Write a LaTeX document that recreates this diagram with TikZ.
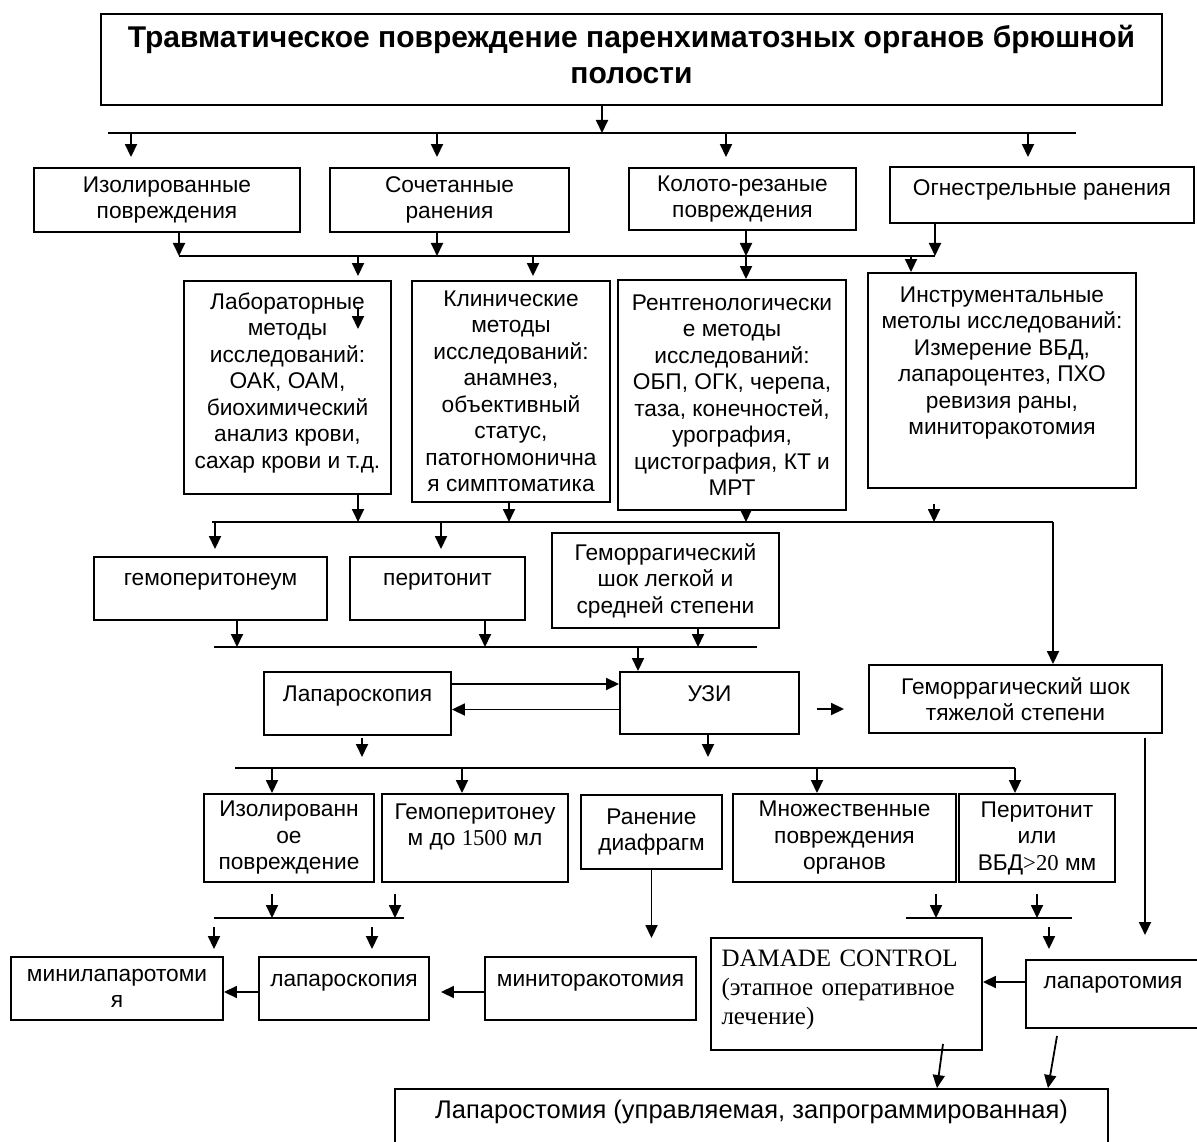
\documentclass[tikz,border=0pt]{standalone}
\usepackage{fontspec}
\setmainfont{Liberation Sans}
\newfontfamily\timesf{Liberation Serif}
\usetikzlibrary{arrows.meta}

\tikzset{
  box/.style={draw, line width=1.9pt, rectangle, inner sep=2pt, align=center,
    font=\fontsize{22.7}{26.5}\selectfont},
  dims/.style 2 args={minimum width=#1pt, minimum height=#2pt},
  lift/.style={text height=16pt, text depth=#1},
  arr/.style={line width=1.8pt, -{Triangle[width=12pt,length=13pt]}},
  bus/.style={line width=1.9pt},
}

\begin{document}
\begin{tikzpicture}[x=1pt,y=-1pt]
\useasboundingbox (0,0) rectangle (1197,1142);

% Title
\node[box, dims={1061}{91}, font=\fontsize{30}{36}\selectfont\bfseries] (title) at (631.5,59.5)
  {Травматическое повреждение паренхиматозных органов брюшной\\полости\\[-26pt]\mbox{}};

% Kind of injury
\node[box, dims={266}{64}] (izol) at (167,200) {Изолированные\\повреждения};
\node[box, dims={239}{64}] (soch) at (449.5,200) {Сочетанные\\ранения};
\node[box, dims={227}{62}] (kolot) at (742.5,199) {Колото-резаные\\повреждения};
\node[box, dims={304}{56}, lift=14pt] (ogn) at (1042,195) {Огнестрельные ранения};

% Methods
\node[box, dims={207}{213}] (lab) at (287.5,387.5)
  {Лабораторные\\методы\\исследований:\\ОАК, ОАМ,\\биохимический\\анализ крови,\\сахар крови и т.д.\\[-12pt]\mbox{}};
\node[box, dims={198}{221}] (klin) at (511,391.5)
  {Клинические\\методы\\исследований:\\анамнез,\\объективный\\статус,\\патогномонична\\я симптоматика};
\node[box, dims={228}{230}] (rentg) at (732,395)
  {Рентгенологически\\е методы\\исследований:\\ОБП, ОГК, черепа,\\таза, конечностей,\\урография,\\цистография, КТ и\\МРТ};
\node[box, dims={268}{215}] (instr) at (1002,380.5)
  {Инструментальные\\метолы исследований:\\Измерение ВБД,\\лапароцентез, ПХО\\ревизия раны,\\миниторакотомия\\[13.5pt]\mbox{}};

% Findings
\node[box, dims={233}{63}, lift=23pt] (gemo) at (210.5,588.5) {гемоперитонеум};
\node[box, dims={175}{63}, lift=23pt] (perit) at (437.5,588.5) {перитонит};
\node[box, dims={227}{95}] (shokL) at (665.5,580.5) {Геморрагический\\шок легкой и\\средней степени};

\node[box, dims={187}{63}, lift=21pt] (lapS) at (357.5,703.5) {Лапароскопия};
\node[box, dims={179}{62}, lift=20pt] (uzi) at (709.5,703) {УЗИ};
\node[box, dims={293}{68}] (shokT) at (1015.5,699) {Геморрагический шок\\тяжелой степени};

% Result of diagnostics
\node[box, dims={170}{88}] (izol2) at (289,838) {Изолированн\\ое\\повреждение};
\node[box, dims={186}{88}] (gemo2) at (475,838) {Гемоперитонеу\\м до {\timesf 1500} мл\\ \mbox{}};
\node[box, dims={141}{74}] (diaf) at (651.5,832) {Ранение\\диафрагм};
\node[box, dims={223}{88}] (mnozh) at (844.5,838) {Множественные\\повреждения\\органов};
\node[box, dims={156}{88}] (perit2) at (1037,838) {Перитонит\\или\\ВБД{\timesf >20} мм};

% Operations
\node[box, dims={212}{63}] (minilap) at (117,988.5) {минилапаротоми\\я};
\node[box, dims={170}{63}, lift=21pt] (lapS2) at (344,988.5) {лапароскопия};
\node[box, dims={211}{63}, lift=21pt] (minitor) at (590.5,988.5) {миниторакотомия};
\node[box, dims={271}{112}, align=left, text width=250pt, inner xsep=10.5pt,
  font=\timesf\fontsize{25}{29}\selectfont] (damage) at (846.5,994)
  {DAMADE CONTROL\\(этапное оперативное\\лечение)\\[-16pt]\mbox{}};
\node[box, dims={174}{68}, lift=28pt] (laparot) at (1113,994) {лапаротомия};
\node[box, dims={713}{71}, lift=29pt, font=\fontsize{25.5}{29}\selectfont] (laparost) at (751.5,1124.5)
  {Лапаростомия (управляемая, запрограммированная)};

% Bus lines
\coordinate (b1w) at (108,133);  \coordinate (b1e) at (1076,133);
\coordinate (b2w) at (179,256);  \coordinate (b2e) at (935,256);
\coordinate (b3w) at (212,522);  \coordinate (b3e) at (1053,522);
\coordinate (b4w) at (214,647);  \coordinate (b4e) at (757,647);
\coordinate (b5w) at (235,768);  \coordinate (b5e) at (1015,768);
\coordinate (b6w) at (214,918);  \coordinate (b6e) at (404,918);
\coordinate (b7w) at (906,918);  \coordinate (b7e) at (1072,918);
\coordinate (shokTend) at (1145,935);
\draw[bus] (b1w) -- (b1e);
\draw[bus] (b2w) -- (b2e);
\draw[bus] (b3w) -- (b3e);
\draw[bus] (b4w) -- (b4e);
\draw[bus] (b5w) -- (b5e);
\draw[bus] (b6w) -- (b6e);
\draw[bus] (b7w) -- (b7e);

% Title to kinds
\draw[arr] ([xshift=-29.5pt]title.south) -- ([xshift=-29.5pt]title.south |- b1w);
\draw[arr, shorten >=10pt] ([xshift=-36pt]izol.north |- b1w) -- ([xshift=-36pt]izol.north);
\draw[arr, shorten >=10pt] ([xshift=-12.5pt]soch.north |- b1w) -- ([xshift=-12.5pt]soch.north);
\draw[arr, shorten >=10pt] ([xshift=-16.5pt]kolot.north |- b1w) -- ([xshift=-16.5pt]kolot.north);
\draw[arr, shorten >=9pt] ([xshift=-14pt]ogn.north |- b1w) -- ([xshift=-14pt]ogn.north);

% Kinds to methods
\draw[arr] ([xshift=12pt]izol.south) -- ([xshift=12pt]izol.south |- b2w);
\draw[arr] ([xshift=-12.5pt]soch.south) -- ([xshift=-12.5pt]soch.south |- b2w);
\draw[arr] ([xshift=3.5pt]kolot.south) -- ([xshift=3.5pt]kolot.south |- b2w);
\draw[arr] ([xshift=-107pt]ogn.south) -- ([xshift=-107pt]ogn.south |- b2w);
\draw[arr, shorten >=4pt] ([xshift=70.5pt]lab.north |- b2w) -- ([xshift=70.5pt]lab.north);
\draw[arr, shorten >=4pt] ([xshift=22pt]klin.north |- b2w) -- ([xshift=22pt]klin.north);
\draw[arr] ([xshift=14pt]rentg.north |- b2w) -- ([xshift=14pt]rentg.north);
\draw[arr] ([xshift=-91pt]instr.north |- b2w) -- ([xshift=-91pt]instr.north);
\draw[arr] ([xshift=70.5pt,yshift=-27pt]lab.north) -- ++(0,22);

% Methods to findings
\draw[arr] ([xshift=70.5pt]lab.south) -- ([xshift=70.5pt]lab.south |- b3w);
\draw[arr] ([xshift=-2pt]klin.south) -- ([xshift=-2pt]klin.south |- b3w);
\draw[arr] ([xshift=14pt]rentg.south) -- ([xshift=14pt]rentg.south |- b3w);
\draw[arr, shorten <=15pt] ([xshift=-68pt]instr.south) -- ([xshift=-68pt]instr.south |- b3w);
\draw[arr, shorten >=7pt] ([xshift=4.5pt]gemo.north |- b3w) -- ([xshift=4.5pt]gemo.north);
\draw[arr, shorten >=7pt] ([xshift=3.5pt]perit.north |- b3w) -- ([xshift=3.5pt]perit.north);
\draw[arr] (b3e) -- (b3e |- shokT.north);

% Findings to diagnostics
\draw[arr] ([xshift=26.5pt]gemo.south) -- ([xshift=26.5pt]gemo.south |- b4w);
\draw[arr] ([xshift=47.5pt]perit.south) -- ([xshift=47.5pt]perit.south |- b4w);
\draw[arr] ([xshift=32.5pt]shokL.south) -- ([xshift=32.5pt]shokL.south |- b4w);
\draw[arr] ([xshift=-71.5pt]uzi.north |- b4w) -- ([xshift=-71.5pt]uzi.north);
\draw[arr] ([yshift=19.5pt]lapS.east) -- ([yshift=19.5pt]lapS.east -| uzi.west);
\draw[arr] ([yshift=-6.5pt]uzi.west) -- ([yshift=-6.5pt]uzi.west -| lapS.east);
\draw[arr, shorten <=17pt, shorten >=24pt] ([yshift=-6pt]uzi.east) -- ([yshift=-6pt]uzi.east -| shokT.west);

% Diagnostics to results
\draw[arr, shorten <=2pt, shorten >=11pt] ([xshift=4.5pt]lapS.south) -- ([xshift=4.5pt]lapS.south |- b5w);
\draw[arr, shorten >=11pt] ([xshift=-1.5pt]uzi.south) -- ([xshift=-1.5pt]uzi.south |- b5w);
\draw[arr] ([xshift=-17pt]izol2.north |- b5w) -- ([xshift=-17pt]izol2.north);
\draw[arr] ([xshift=-13pt]gemo2.north |- b5w) -- ([xshift=-13pt]gemo2.north);
\draw[arr] ([xshift=-27.5pt]mnozh.north |- b5w) -- ([xshift=-27.5pt]mnozh.north);
\draw[arr] ([xshift=-22pt]perit2.north |- b5w) -- ([xshift=-22pt]perit2.north);
\draw[arr, shorten <=4pt] (shokTend |- shokT.south) -- (shokTend);

% Results to operations
\draw[arr, shorten <=11pt] ([xshift=-17pt]izol2.south) -- ([xshift=-17pt]izol2.south |- b6w);
\draw[arr, shorten <=11pt] ([xshift=-80pt]gemo2.south) -- ([xshift=-80pt]gemo2.south |- b6w);
\draw[arr, shorten <=9pt, shorten >=7pt] ([xshift=97pt]minilap.north |- b6w) -- ([xshift=97pt]minilap.north);
\draw[arr, shorten <=9pt, shorten >=7pt] ([xshift=28pt]lapS2.north |- b6w) -- ([xshift=28pt]lapS2.north);
\draw[arr, shorten <=11pt] ([xshift=91.5pt]mnozh.south) -- ([xshift=91.5pt]mnozh.south |- b7w);
\draw[arr, shorten <=11pt] (perit2.south) -- (perit2.south |- b7w);
\draw[arr, shorten <=9pt, shorten >=10pt] ([xshift=-64pt]laparot.north |- b7w) -- ([xshift=-64pt]laparot.north);
\draw[arr, shorten >=18pt] (diaf.south) -- (diaf.south |- minitor.north);
\draw[arr] ([yshift=-3.5pt]lapS2.west) -- ([yshift=-3.5pt]lapS2.west -| minilap.east);
\draw[arr, shorten >=11pt] ([yshift=-3.5pt]minitor.west) -- ([yshift=-3.5pt]minitor.west -| lapS2.east);
\draw[arr] ([yshift=12pt]laparot.west) -- ([yshift=12pt]laparot.west -| damage.east);
\draw[arr] ([xshift=96.5pt,yshift=7pt]damage.south) -- ([xshift=185.5pt]laparost.north);
\draw[arr] ([xshift=-56pt,yshift=-7pt]laparot.south) -- ([xshift=296.5pt]laparost.north);

\end{tikzpicture}
\end{document}
